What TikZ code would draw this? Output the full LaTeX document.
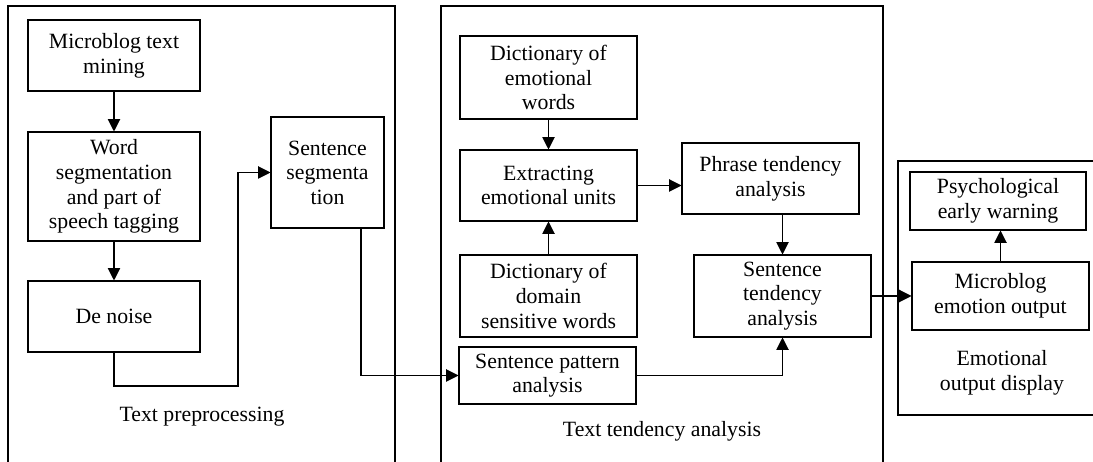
\documentclass[tikz,border=0pt]{standalone}
\usepackage{fontspec}
\setmainfont{Liberation Serif}
\usetikzlibrary{arrows.meta}

\begin{document}
\begin{tikzpicture}[x=0.02cm, y=-0.02cm, line width=0.6pt,
    font=\fontsize{12.4}{14}\selectfont,
    box/.style={draw, align=center, inner sep=0pt},
    flow/.style={-{Triangle[length=7pt,width=7pt]}}]
\useasboundingbox (0,0) rectangle (1093,462);

% Panels
\draw (8,470) -- (8,6) -- (395,6) -- (395,470);
\draw (441,470) -- (441,6) -- (883,6) -- (883,470);
\draw (1100,161) -- (898,161) -- (898,415) -- (1100,415);

% Text preprocessing
\node[box, minimum width=3.44cm, minimum height=1.42cm] (mine) at (114,55.5) {Microblog text\\mining};
\node[box, minimum width=3.44cm, minimum height=2.18cm] (wordseg) at (114,186.5) {Word\\segmentation\\and part of\\speech tagging};
\node[box, minimum width=3.44cm, minimum height=1.42cm] (denoise) at (114,316.5) {De noise};
\node[box, minimum width=2.26cm, minimum height=2.22cm] (sentseg) at (327.5,172.5) {Sentence\\segmenta\\tion};
\node (prep) at (202,417) {Text preprocessing};

% Text tendency analysis
\node[box, minimum width=3.54cm, minimum height=1.66cm] (dictemo) at (548.5,77.5) {Dictionary of\\emotional\\words};
\node[box, minimum width=3.54cm, minimum height=1.42cm] (extract) at (548.5,185.5) {Extracting\\emotional units};
\node[box, minimum width=3.54cm, minimum height=1.64cm] (dictdom) at (548.5,296) {Dictionary of\\domain\\sensitive words};
\node[box, minimum width=3.54cm, minimum height=1.14cm] (pattern) at (547.5,375.5) {Sentence pattern\\analysis};
\node[box, minimum width=3.54cm, minimum height=1.42cm] (phrase) at (770.5,178.5) {Phrase tendency\\analysis};
\node[box, minimum width=3.54cm, minimum height=1.64cm] (senttend) at (782.5,296) {Sentence\\tendency\\analysis};
\node (tend) at (662,431) {Text tendency analysis};

% Emotional output display
\node[box, minimum width=3.52cm, minimum height=1.16cm] (psych) at (998,201) {Psychological\\early warning};
\node[box, minimum width=3.54cm, minimum height=1.36cm] (output) at (1000.5,296) {Microblog\\emotion output};
\node[align=center] (disp) at (1002,373) {Emotional\\output display};

\coordinate (c1) at (238,386);
\coordinate (c2) at (361,375);

\draw[flow] (mine) -- (wordseg);
\draw[flow] (wordseg) -- (denoise);
\draw[flow] (denoise.south) |- (c1) |- (sentseg.west);
\draw[flow] (c2 |- sentseg.south) |- (pattern.west);
\draw[flow] (dictemo) -- (extract);
\draw[flow] (dictdom) -- (extract);
\draw[flow] (extract.east) -- (extract.east -| phrase.west);
\draw[flow] (phrase.south -| senttend.north) -- (senttend.north);
\draw[flow] (pattern.east) -| (senttend.south);
\draw[flow] (senttend.east) -- (output.west);
\draw[flow] (output.north) -- (output.north |- psych.south);
\end{tikzpicture}
\end{document}
